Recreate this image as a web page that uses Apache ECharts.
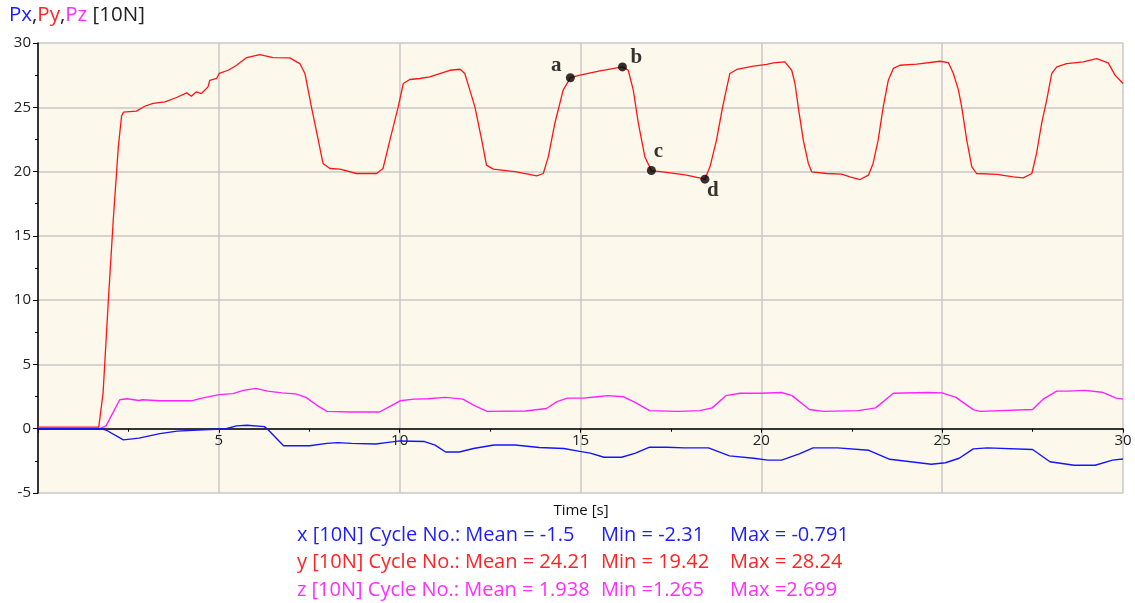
<!DOCTYPE html>
<html>
<head>
<meta charset="utf-8">
<script src="https://cdn.jsdelivr.net/npm/echarts/dist/echarts.min.js"></script>
<style>
html, body { margin: 0; padding: 0; background: #fff; }
#chart { width: 1135px; height: 603px; }
</style>
</head>
<body>
<div id="chart"></div>
<script>
// force readings [time s, value 10N]
const pyData = [
    [0, 0.12], [1.68, 0.12], [1.8, 2.8], [1.95, 10.2], [2.08, 16.2], [2.17, 19.85], [2.22, 21.9], [2.31, 24.3],
    [2.36, 24.62], [2.72, 24.7], [2.95, 25.08], [3.18, 25.3], [3.51, 25.42], [3.83, 25.76], [4.11, 26.12],
    [4.24, 25.86], [4.38, 26.2], [4.52, 26.07], [4.70, 26.59], [4.75, 27.1], [4.94, 27.24], [5.01, 27.63],
    [5.26, 27.88], [5.49, 28.27], [5.77, 28.87], [6.13, 29.1], [6.50, 28.87], [6.96, 28.84], [7.24, 28.4],
    [7.38, 27.63], [7.56, 25.03], [7.75, 22.44], [7.88, 20.63], [8.07, 20.24], [8.35, 20.19], [8.81, 19.85],
    [9.36, 19.85], [9.54, 20.24], [9.73, 22.44], [9.96, 25.03], [10.10, 26.85], [10.28, 27.16], [10.56, 27.24],
    [10.83, 27.37], [11.39, 27.88], [11.67, 27.96], [11.8, 27.63], [11.94, 26.33], [12.08, 25.03], [12.27, 22.44],
    [12.40, 20.5], [12.59, 20.19], [13.23, 19.98], [13.79, 19.67], [13.97, 19.85], [14.11, 21.14], [14.29, 23.74],
    [14.52, 26.33], [14.72, 27.3], [14.98, 27.5], [15.54, 27.83], [16.16, 28.14], [16.32, 27.88], [16.46, 26.33],
    [16.60, 23.74], [16.78, 21.14], [16.96, 20.08], [17.38, 19.93], [17.93, 19.72], [18.44, 19.41], [18.58, 20.37],
    [18.76, 22.44], [18.93, 25.03], [19.13, 27.63], [19.32, 27.94], [19.78, 28.2], [20.15, 28.33], [20.33, 28.45],
    [20.65, 28.53], [20.84, 27.88], [20.93, 26.85], [21.02, 25.03], [21.16, 22.44], [21.30, 20.63], [21.39, 19.98],
    [21.81, 19.85], [22.22, 19.80], [22.45, 19.59], [22.73, 19.38], [22.96, 19.72], [23.09, 20.63], [23.23, 22.44],
    [23.37, 25.03], [23.51, 27.1], [23.65, 28.02], [23.83, 28.27], [24.30, 28.35], [24.94, 28.58], [25.17, 28.48],
    [25.31, 27.63], [25.45, 26.33], [25.54, 25.03], [25.68, 22.44], [25.82, 20.37], [25.95, 19.85], [26.51, 19.78],
    [26.97, 19.59], [27.24, 19.51], [27.48, 19.85], [27.61, 21.41], [27.75, 23.74], [27.89, 25.55], [28.03, 27.63],
    [28.17, 28.14], [28.44, 28.40], [28.90, 28.53], [29.27, 28.79], [29.59, 28.45], [29.78, 27.5], [30, 26.85]
];
const pzData = [
    [0, 0.03], [1.73, 0.03], [1.88, 0.22], [2.26, 2.25], [2.46, 2.33], [2.79, 2.19], [2.89, 2.25], [3.37, 2.17],
    [4.24, 2.17], [4.53, 2.38], [5.01, 2.65], [5.39, 2.73], [5.68, 2.98], [6.02, 3.14], [6.35, 2.92], [6.74, 2.79],
    [7.12, 2.71], [7.41, 2.44], [7.70, 1.84], [7.99, 1.35], [8.67, 1.30], [9.44, 1.30], [9.72, 1.71], [10.01, 2.17],
    [10.40, 2.30], [10.78, 2.33], [11.27, 2.44], [11.75, 2.30], [12.04, 1.84], [12.42, 1.35], [13.48, 1.38],
    [14.06, 1.57], [14.35, 2.11], [14.64, 2.38], [15.07, 2.38], [15.46, 2.49], [15.75, 2.57], [16.18, 2.49],
    [16.52, 2.03], [16.91, 1.41], [17.68, 1.35], [18.30, 1.41], [18.64, 1.62], [19.02, 2.57], [19.41, 2.76],
    [19.99, 2.76], [20.56, 2.82], [20.85, 2.57], [21.33, 1.49], [21.72, 1.35], [22.68, 1.41], [23.16, 1.62],
    [23.65, 2.76], [24.61, 2.82], [25.0, 2.79], [25.38, 2.44], [25.86, 1.49], [26.05, 1.35], [27.50, 1.49],
    [27.79, 2.30], [28.17, 2.92], [28.46, 2.92], [28.94, 2.98], [29.42, 2.84], [29.81, 2.38], [30, 2.30]
];
const pxData = [
    [0, 0], [1.75, 0], [1.88, -0.1], [2.36, -0.87], [2.79, -0.73], [3.37, -0.38], [3.85, -0.19], [4.43, -0.1],
    [5.20, 0], [5.49, 0.22], [5.78, 0.27], [6.26, 0.16], [6.35, -0.05], [6.79, -1.33], [7.51, -1.33], [7.99, -1.14],
    [8.28, -1.08], [8.67, -1.14], [9.34, -1.19], [9.63, -1.08], [10.01, -0.95], [10.69, -1.0], [10.98, -1.27],
    [11.27, -1.81], [11.65, -1.81], [12.04, -1.54], [12.61, -1.27], [13.19, -1.27], [13.86, -1.46], [14.54, -1.54],
    [14.98, -1.76], [15.27, -1.90], [15.65, -2.22], [16.14, -2.22], [16.52, -1.90], [16.91, -1.44], [17.39, -1.44],
    [17.87, -1.49], [18.54, -1.49], [19.12, -2.11], [19.79, -2.30], [20.18, -2.44], [20.56, -2.44], [21.05, -1.95],
    [21.43, -1.49], [22.11, -1.49], [22.97, -1.68], [23.55, -2.38], [24.13, -2.57], [24.70, -2.76], [25.09, -2.65],
    [25.47, -2.30], [25.86, -1.57], [26.25, -1.49], [27.50, -1.62], [27.98, -2.57], [28.65, -2.84], [29.23, -2.84],
    [29.71, -2.44], [30, -2.36]
];
// marked points on the Py curve
const markNames = ['a', 'b', 'c', 'd'];
const markPoints = [[14.72, 27.3], [16.16, 28.14], [16.96, 20.08], [18.44, 19.41]];
const markOffsets = [[-14, -12], [14, -9], [7, -19], [8, 11]];

// cycle statistics
const statRows = [
    { prefix: 'x [10N] Cycle No.: Mean = -1.5', min: 'Min = -2.31', max: 'Max = -0.791', color: '#1c1cff' },
    { prefix: 'y [10N] Cycle No.: Mean = 24.21', min: 'Min = 19.42', max: 'Max = 28.24', color: '#ff2424' },
    { prefix: 'z [10N] Cycle No.: Mean = 1.938', min: 'Min =1.265', max: 'Max =2.699', color: '#ff2eff' }
];

const FONT = '"Open Sans", "Noto Sans", sans-serif';
const yMin = -5, yMax = 30;
const gridTop = 43, gridBottom = 110, chartH = 603;

let myChart = echarts.init(document.getElementById('chart'));

// x axis sits on the zero line, not on the grid bottom
let plotH = chartH - gridTop - gridBottom;
let zeroShift = -plotH * (0 - yMin) / (yMax - yMin);

let graphics = [
    {
        type: 'text', left: 9, top: 5,
        style: {
            text: '{b|Px},{r|Py},{m|Pz} [10N]',
            font: '20.5px ' + FONT, fill: '#222',
            rich: {
                b: { fill: '#1c1cff', font: '20.5px ' + FONT },
                r: { fill: '#ff2424', font: '20.5px ' + FONT },
                m: { fill: '#ff2eff', font: '20.5px ' + FONT }
            }
        }
    },
    {
        type: 'text', x: 581, y: 511,
        style: { text: 'Time [s]', font: '15px ' + FONT, fill: '#111', align: 'center', verticalAlign: 'middle' }
    }
];
statRows.forEach(function (row, i) {
    let y = 535 + i * 27.5;
    graphics.push({ type: 'text', x: 297, y: y, style: { text: row.prefix, font: '20px ' + FONT, fill: row.color, verticalAlign: 'middle' } });
    graphics.push({ type: 'text', x: 601, y: y, style: { text: row.min, font: '20px ' + FONT, fill: row.color, verticalAlign: 'middle' } });
    graphics.push({ type: 'text', x: 730, y: y, style: { text: row.max, font: '20px ' + FONT, fill: row.color, verticalAlign: 'middle' } });
});

myChart.setOption({
    animation: false,
    backgroundColor: '#fff',
    grid: {
        left: 38, right: 12, top: gridTop, bottom: gridBottom,
        show: true, backgroundColor: '#fdf8ec', borderWidth: 0
    },
    xAxis: {
        type: 'value',
        min: 0, max: 30, interval: 5,
        position: 'bottom',
        offset: zeroShift,
        axisLine: { onZero: false, lineStyle: { color: '#000', width: 1.5 } },
        axisTick: { show: true, length: 4, lineStyle: { color: '#000' } },
        minorTick: { show: true, splitNumber: 2, length: 3, lineStyle: { color: '#000' } },
        axisLabel: {
            color: '#222', fontSize: 15, fontFamily: FONT, margin: 5,
            formatter: function (v) { return v === 0 ? '' : String(v); }
        },
        splitLine: { show: true, lineStyle: { color: '#c8c8c8', width: 1.5 } }
    },
    yAxis: {
        type: 'value',
        min: yMin, max: yMax, interval: 5,
        axisLine: { show: true, onZero: false, lineStyle: { color: '#000', width: 1.5 } },
        axisTick: { show: true, length: 5, lineStyle: { color: '#000' } },
        minorTick: { show: true, splitNumber: 2, length: 3, lineStyle: { color: '#000' } },
        axisLabel: { color: '#222', fontSize: 15, fontFamily: FONT, margin: 7 },
        splitLine: { show: true, lineStyle: { color: '#c8c8c8', width: 1.5 } }
    },
    graphic: graphics,
    series: [
        {
            name: 'Pz', type: 'line', data: pzData, showSymbol: false,
            lineStyle: { color: '#ff22ff', width: 1.4 }
        },
        {
            name: 'Py', type: 'line', data: pyData, showSymbol: false,
            lineStyle: { color: '#ff1414', width: 1.3 }
        },
        {
            name: 'Px', type: 'line', data: pxData, showSymbol: false,
            lineStyle: { color: '#1414ff', width: 1.4 }
        },
        {
            name: 'marks', type: 'scatter', symbolSize: 9, z: 5,
            itemStyle: { color: '#000' },
            data: markPoints.map(function (p, i) {
                return {
                    name: markNames[i], value: p,
                    label: {
                        show: true, position: 'inside', offset: markOffsets[i],
                        formatter: '{b}', color: '#000',
                        fontFamily: '"Liberation Serif", "DejaVu Serif", serif',
                        fontWeight: 'bold', fontSize: 21
                    }
                };
            })
        }
    ]
});
</script>
</body>
</html>
